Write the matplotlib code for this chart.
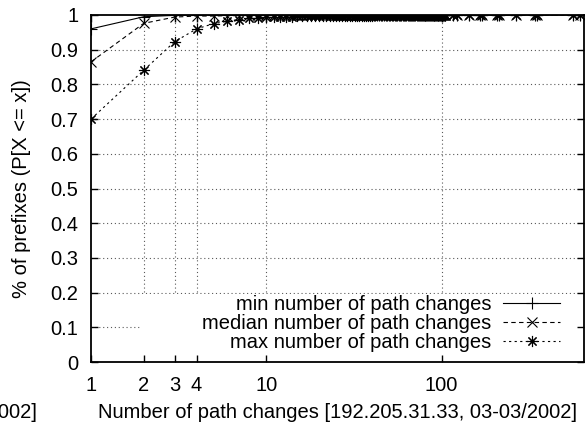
import numpy as np
import matplotlib
matplotlib.use("Agg")
import matplotlib.pyplot as plt
from matplotlib.patches import Rectangle

plt.rcParams['font.family'] = ['Liberation Sans', 'DejaVu Sans']

# number of path changes (x) and CDF of each series
changes = list(range(1, 106)) + [117, 122, 143, 165, 170, 207, 212, 265, 342, 350, 560, 620]

min_cdf = [0.960, 0.995, 0.999] + [1.0] * 102 + [1.0] * 12
median_cdf = ([0.865, 0.976, 0.994, 0.997, 0.997, 0.998, 0.998, 0.999, 0.999, 0.999]
              + [1.0] * 95 + [1.0] * 12)
max_cdf = ([0.700, 0.841, 0.923, 0.960, 0.975, 0.982, 0.987, 0.990, 0.992, 0.993,
            0.994, 0.994, 0.995, 0.995, 0.996, 0.996, 0.996, 0.997, 0.997, 0.997]
           + [0.998] * 20 + [0.999] * 65 + [1.0] * 12)

labels = ["min number of path changes",
          "median number of path changes",
          "max number of path changes"]

xticks = [1, 2, 3, 4, 10, 100]
yticks = [0, 0.1, 0.2, 0.3, 0.4, 0.5, 0.6, 0.7, 0.8, 0.9, 1]
ytick_labels = ["0", "0.1", "0.2", "0.3", "0.4", "0.5", "0.6", "0.7", "0.8", "0.9", "1"]

fs = 14.5
fig = plt.figure(figsize=(5.87, 4.25), dpi=100)
ax = fig.add_axes([91/587, 1-362/425, (584-91)/587, (362-15)/425])

ax.set_xscale("log")
ax.set_xlim(1, 650)
ax.set_ylim(0, 1)

# dotted grid drawn by hand so the legend area can cover it
for y in yticks[1:-1]:
    ax.axhline(y, color="0.35", lw=0.8, ls=(0, (1, 2.5)), zorder=1)
for x in xticks[1:]:
    ax.axvline(x, color="0.35", lw=0.8, ls=(0, (1, 2.5)), zorder=1)
ax.add_patch(Rectangle((0.103, 0.0), 0.897, 0.196, transform=ax.transAxes,
                       facecolor="white", edgecolor="none", zorder=1.5))

ax.plot(changes, min_cdf, color="black", lw=0.8, ls="-", marker="+", ms=8,
        mew=0.8, label=labels[0], zorder=3)
ax.plot(changes, median_cdf, color="black", lw=0.8, ls=(0, (4, 3)), marker="x", ms=6.5,
        mew=0.8, label=labels[1], zorder=3)
ax.plot(changes, max_cdf, color="black", lw=0.8, ls=(0, (2, 3)), marker=(8, 2, 0), ms=8,
        mew=0.8, label=labels[2], zorder=3)

ax.set_xticks(xticks)
ax.set_xticklabels([str(t) for t in xticks])
ax.xaxis.set_minor_locator(matplotlib.ticker.NullLocator())
ax.set_yticks(yticks)
ax.set_yticklabels(ytick_labels)
ax.tick_params(axis="both", direction="in", length=5, width=1, labelsize=fs,
               top=True, right=True)
ax.tick_params(axis="x", pad=10)
ax.tick_params(axis="y", pad=9)
for s in ax.spines.values():
    s.set_linewidth(1.3)

ax.legend(loc="center right", bbox_to_anchor=(0.951, 0.112), frameon=False,
          markerfirst=False, fontsize=fs, handlelength=2.8, handletextpad=0.6,
          labelspacing=0.0, borderpad=0, borderaxespad=0)

mid_y = 1 - (362+15)/2/425
fig.text(22/587, mid_y, "% of prefixes (P[X <= x])", rotation=90,
         ha="center", va="center", fontsize=fs)
fig.text(338/587, 1-412/425, "Number of path changes [192.205.31.33, 03-03/2002]",
         ha="center", va="center", fontsize=fs)
# tail of the neighbouring panel's label, cut by the figure edge
fig.text(37/587, 1-412/425, "Number of path changes [192.205.31.33, 03-02/2002]",
         ha="right", va="center", fontsize=fs)

fig.savefig("out.png", dpi=100)
